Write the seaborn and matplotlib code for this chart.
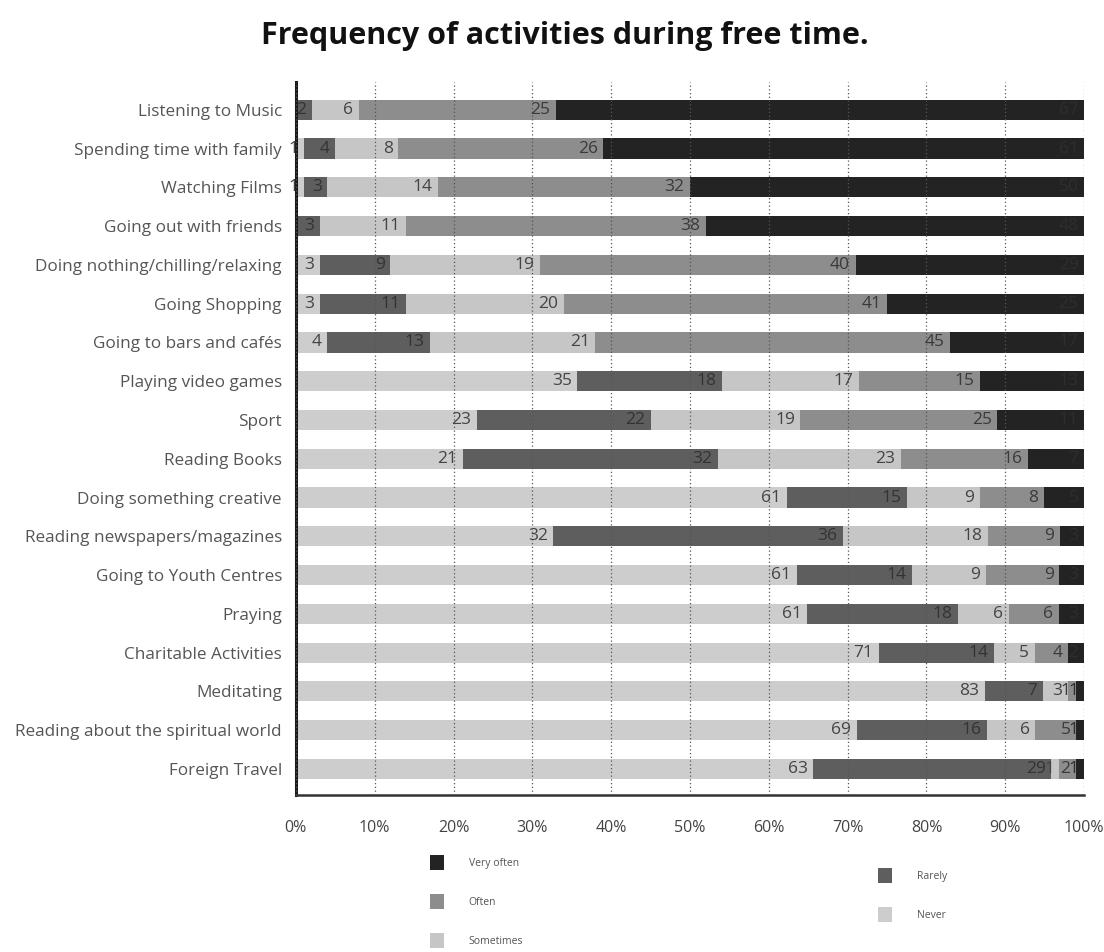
import numpy as np
import pandas as pd
import matplotlib
matplotlib.use("Agg")
import matplotlib.pyplot as plt
from matplotlib.patches import Patch
import seaborn as sns

activities = [
    "Listening to Music",
    "Spending time with family",
    "Watching Films",
    "Going out with friends",
    "Doing nothing/chilling/relaxing",
    "Going Shopping",
    "Going to bars and cafés",
    "Playing video games",
    "Sport",
    "Reading Books",
    "Doing something creative",
    "Reading newspapers/magazines",
    "Going to Youth Centres",
    "Praying",
    "Charitable Activities",
    "Meditating",
    "Reading about the spiritual world",
    "Foreign Travel",
]

never      = [0, 1, 1, 0, 3, 3, 4, 35, 23, 21, 61, 32, 61, 61, 71, 83, 69, 63]
rarely     = [2, 4, 3, 3, 9, 11, 13, 18, 22, 32, 15, 36, 14, 18, 14, 7, 16, 29]
sometimes  = [6, 8, 14, 11, 19, 20, 21, 17, 19, 23, 9, 18, 9, 6, 5, 3, 6, 1]
often      = [25, 26, 32, 38, 40, 41, 45, 15, 25, 16, 8, 9, 9, 6, 4, 1, 5, 2]
very_often = [67, 61, 50, 48, 29, 25, 17, 13, 11, 7, 5, 3, 3, 3, 2, 1, 1, 1]

levels = ["Never", "Rarely", "Sometimes", "Often", "Very often"]
level_values = [never, rarely, sometimes, often, very_often]
level_colors = ["#cdcdcd", "#5e5e5e", "#c6c6c6", "#8d8d8d", "#232323"]
label_colors = ["#444444", "#333333", "#444444", "#3a3a3a", "#2e2e2e"]

pct_ticks = [0, 10, 20, 30, 40, 50, 60, 70, 80, 90, 100]
pct_labels = [f"{t}%" for t in pct_ticks]

# Raw counts per activity and row-normalised cumulative shares
raw = pd.DataFrame(dict(zip(levels, level_values)), index=activities)
shares = raw.div(raw.sum(axis=1), axis=0) * 100
cum = shares.cumsum(axis=1)
cum["activity"] = activities

sns.set_theme(style="white")
plt.rcParams["font.family"] = ["Open Sans", "DejaVu Sans"]

fig = plt.figure(figsize=(11.04, 9.52), dpi=100)
ax = fig.add_axes([0.268, 0.165, 0.714, 0.749])

# Stacked bars: widest cumulative layer first, narrower layers on top
for lvl, col in zip(reversed(levels), reversed(level_colors)):
    sns.barplot(data=cum, x=lvl, y="activity", order=activities, orient="h",
                color=col, width=0.52, errorbar=None, ax=ax,
                saturation=1, edgecolor="none", linewidth=0)

# Value labels at the right end of each segment
for i, act in enumerate(activities):
    for lvl, lc in zip(levels, label_colors):
        v = raw.loc[act, lvl]
        if v <= 0:
            continue
        ax.annotate(str(v), xy=(cum.loc[act, lvl], i), xytext=(-4, 0),
                    textcoords="offset points", ha="right", va="center",
                    fontsize=12.5, color=lc, zorder=4)

ax.set_xlim(0, 100)
ax.set_ylim(len(activities) - 0.33, -0.72)
ax.set_xticks(pct_ticks)
ax.set_xticklabels(pct_labels)
ax.set_xlabel("")
ax.set_ylabel("")

ax.set_axisbelow(False)
ax.grid(axis="x", color="#555555", linestyle=(0, (1, 2)), linewidth=0.9, zorder=2.5)
ax.grid(axis="y", visible=False)

for s in ["top", "right"]:
    ax.spines[s].set_visible(False)
ax.spines["left"].set_color("#1a1a1a")
ax.spines["left"].set_linewidth(2.2)
ax.spines["bottom"].set_color("#333333")
ax.spines["bottom"].set_linewidth(1.8)

ax.tick_params(axis="x", length=0, pad=18, labelsize=11.5, labelcolor="#444444")
ax.tick_params(axis="y", length=0, pad=10, labelsize=12.3, labelcolor="#555555")

fig.text(565 / 1104, 1 - 36 / 952, "Frequency of activities during free time.",
         ha="center", va="center", fontsize=22, fontweight="bold", color="#111111")

# Legend split into two blocks below the axis
def handles_for(names):
    return [Patch(facecolor=level_colors[levels.index(n)], edgecolor="none", label=n)
            for n in names]

leg_kw = dict(frameon=False, fontsize=7.5, handlelength=1.3, handleheight=1.8,
              handletextpad=2.4, labelspacing=2.35, borderaxespad=0, borderpad=0)
for t in [fig.legend(handles=handles_for(["Very often", "Often", "Sometimes"]),
                     loc="upper left", bbox_to_anchor=(430 / 1104, 1 - 855 / 952), **leg_kw),
          fig.legend(handles=handles_for(["Rarely", "Never"]),
                     loc="upper left", bbox_to_anchor=(878 / 1104, 1 - 868 / 952), **leg_kw)]:
    for txt in t.get_texts():
        txt.set_color("#555555")

fig.savefig("out.png", dpi=100, facecolor="white")
